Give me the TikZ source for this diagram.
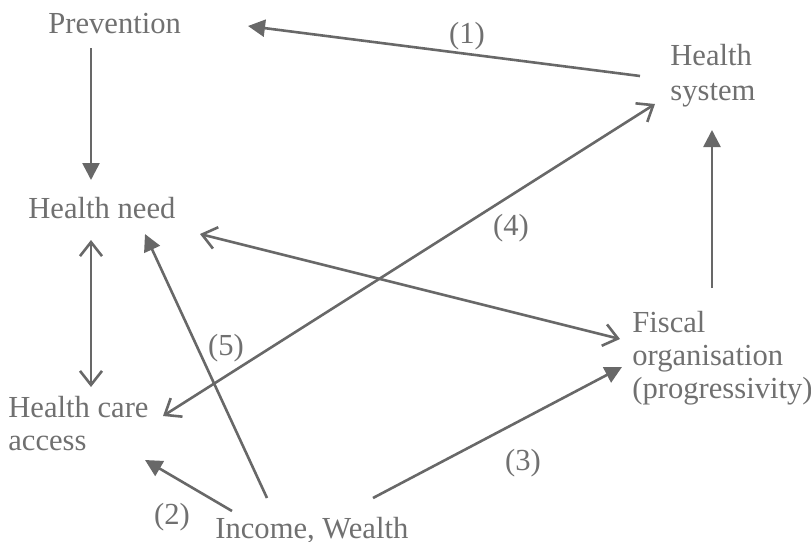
\documentclass[tikz,border=0pt]{standalone}
\usepackage{fontspec}
\setmainfont{Liberation Serif}
\usetikzlibrary{arrows.meta,calc}
\definecolor{txtgray}{RGB}{112,112,112}
\definecolor{lngray}{RGB}{104,104,104}
\begin{document}
\begin{tikzpicture}[x=0.5pt,y=-0.5pt,
  lbl/.style={inner sep=0pt,text=txtgray,font=\fontsize{15.3}{16.5}\selectfont},
  boxtxt/.style={lbl,anchor=base west,align=left},
  conn/.style={draw=lngray,line width=1.3pt},
  fullhead/.style={conn,-{Triangle[length=8.5pt,width=8.5pt]}},
  openboth/.style={conn,{Straight Barb[length=7pt,width=11pt,line width=1.3pt]}-{Straight Barb[length=7pt,width=11pt,line width=1.3pt]}}]
\path[use as bounding box] (0,0) rectangle (811,542);

% base west of a multi-line node is the baseline of its last line
\node[boxtxt] (prev) at (48,33) {Prevention};
\node[boxtxt] (hn) at (28,218) {Health need};
\node[boxtxt,font=\fontsize{15.3}{17.5}\selectfont] (hs) at (670,100) {Health\\system};
\node[boxtxt] (hca) at (8,450) {Health care\\access};
\node[boxtxt] (fo) at (632,398) {Fiscal\\organisation\\(progressivity)};
\node[boxtxt] (iw) at (215,538) {Income, Wealth};

\node[lbl] (l1) at (467,36) {(1)};
\node[lbl] (l4) at (511,228) {(4)};
\node[lbl] (l5) at (226,348) {(5)};
\node[lbl] (l2) at (172,517) {(2)};
\node[lbl] (l3) at (523,463) {(3)};

% Prevention -> Health need
\draw[fullhead] ($(prev.base west)+(43,15)$) -- ($(hn.base west)+(63,-38)$);
% (1) Health system -> Prevention
\draw[fullhead] ($(hs.base west)+(-30,-24)$) -- ($(prev.base west)+(200,-7)$);
% (4) Health system <-> Health care access
\draw[openboth] ($(hs.base west)+(-15,4)$) -- ($(hca.base west)+(155,-34)$);
% Fiscal -> Health system
\draw[fullhead] ($(fo.base west)+(80,-110)$) -- ($(hs.base west)+(42,30)$);
% Health need <-> Health care access
\draw[openboth] ($(hn.base west)+(63,22)$) -- ($(hca.base west)+(83,-63)$);
% Health need <-> Fiscal
\draw[openboth] ($(hn.base west)+(172,16)$) -- ($(fo.base west)+(-12,-59)$);
% (5) Income -> Health need
\draw[fullhead] ($(iw.base west)+(52,-40)$) -- ($(hn.base west)+(117,16)$);
% (2) Income -> Health care access
\draw[fullhead] ($(iw.base west)+(17,-27)$) -- ($(hca.base west)+(137,10)$);
% (3) Income -> Fiscal
\draw[fullhead] ($(iw.base west)+(158,-40)$) -- ($(fo.base west)+(-10,-31)$);
\end{tikzpicture}
\end{document}
